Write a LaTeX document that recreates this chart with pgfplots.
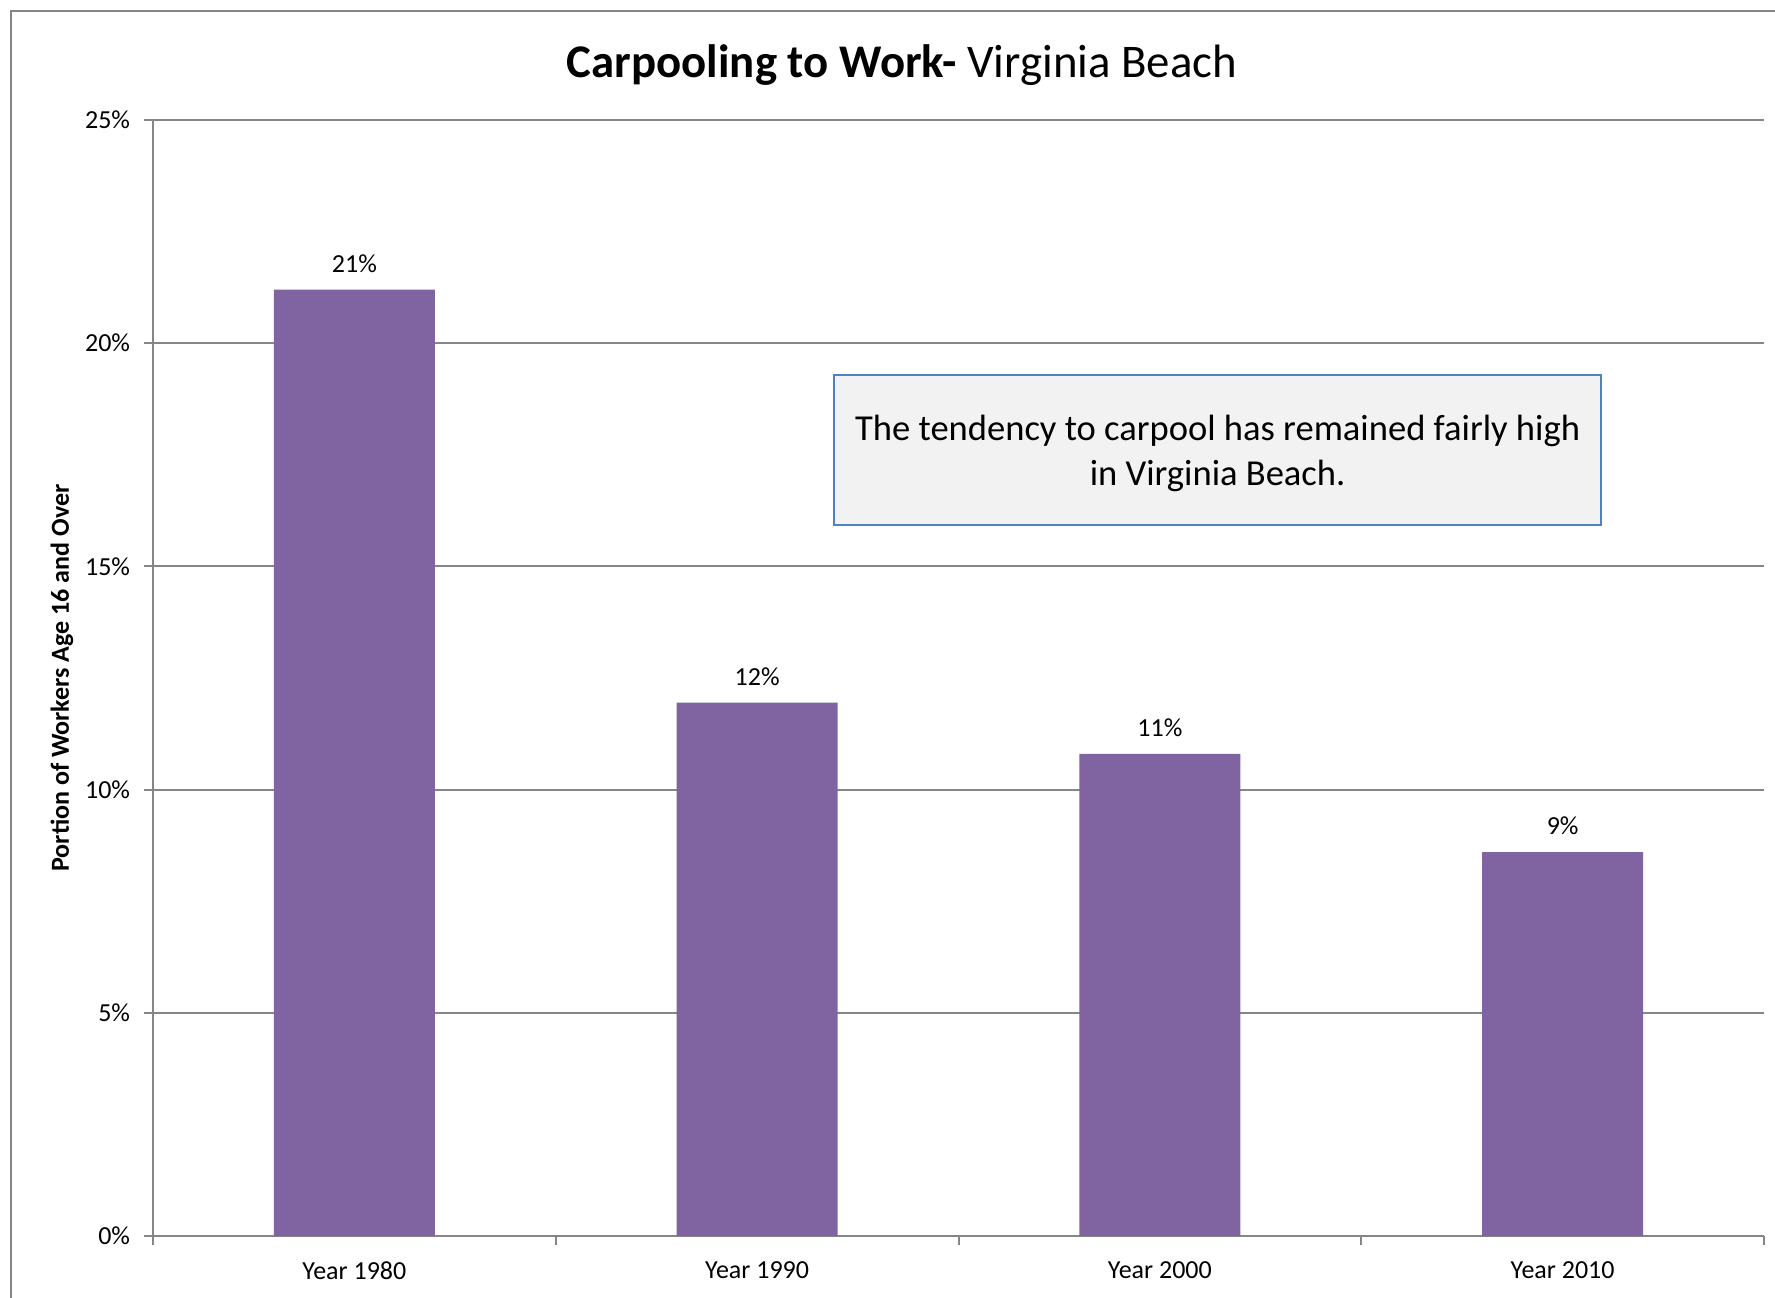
\documentclass[border=0pt]{standalone}
\usepackage{fontspec}
\setmainfont{Carlito}
\usepackage{pgfplots}
\pgfplotsset{compat=1.18}
\definecolor{barpurple}{HTML}{8064A2}
\definecolor{gridgray}{HTML}{868686}
\definecolor{boxblue}{HTML}{4F81BD}
\definecolor{boxfill}{HTML}{F2F2F2}
\begin{document}
\begin{tikzpicture}
\useasboundingbox (0,0) rectangle (443.75pt,324.25pt);
\fill[white] (0,0) rectangle (443.75pt,324.25pt);
\draw[color=gridgray, line width=0.5pt] (2.75pt,-1pt) -- (2.75pt,321.5pt) -- (446pt,321.5pt);
\begin{axis}[
  at={(38.25pt,15.25pt)}, anchor=south west,
  scale only axis, width=402.75pt, height=279pt,
  xmin=-0.5, xmax=3.5, ymin=0, ymax=25,
  axis x line*=bottom, axis y line*=left,
  axis line style={draw=gridgray, line width=0.5pt, -},
  ybar, bar width=0.4,
  xtick={-0.5,0.5,1.5,2.5,3.5},
  xticklabels={Year 1980,Year 1990,Year 2000,Year 2010},
  x tick label as interval,
  xticklabel style={yshift=-0.6pt},
  ytick={0,5,10,15,20,25},
  yticklabel={\pgfmathprintnumber{\tick}\%},
  /pgf/number format/assume math mode=true,
  tick align=outside,
  major tick length=2.2pt,
  tick style={draw=gridgray, line width=0.5pt},
  ymajorgrids,
  grid style={draw=gridgray, line width=0.5pt},
  ticklabel style={font=\fontsize{6.5}{7.8}\selectfont, text=black},
  ylabel={\bfseries Portion of Workers Age 16 and Over},
  ylabel style={font=\fontsize{6.5}{7.8}\selectfont, at={(axis description cs:-0.0565,0.5)}, anchor=center},
  nodes near coords={\pgfmathprintnumber[fixed,precision=0]{\pgfplotspointmeta}\%},
  nodes near coords style={font=\fontsize{6.5}{7.8}\selectfont, text=black, anchor=south, yshift=0.7pt},
]
\addplot[fill=barpurple, draw=none] coordinates {(0,21.2) (1,11.95) (2,10.8) (3,8.6)};
\end{axis}
\node[font=\fontsize{11.7}{14}\selectfont] at (225.5pt,307.9pt) {{\bfseries Carpooling to Work-} Virginia Beach};
\draw[fill=boxfill, draw=boxblue, line width=0.4pt] (208.5pt,193pt) rectangle (400.25pt,230.5pt);
\node[font=\fontsize{9.14}{11.25}\selectfont, align=center] at (304.4pt,210.8pt) {The tendency to carpool has remained fairly high\\in Virginia Beach.};
\end{tikzpicture}
\end{document}
